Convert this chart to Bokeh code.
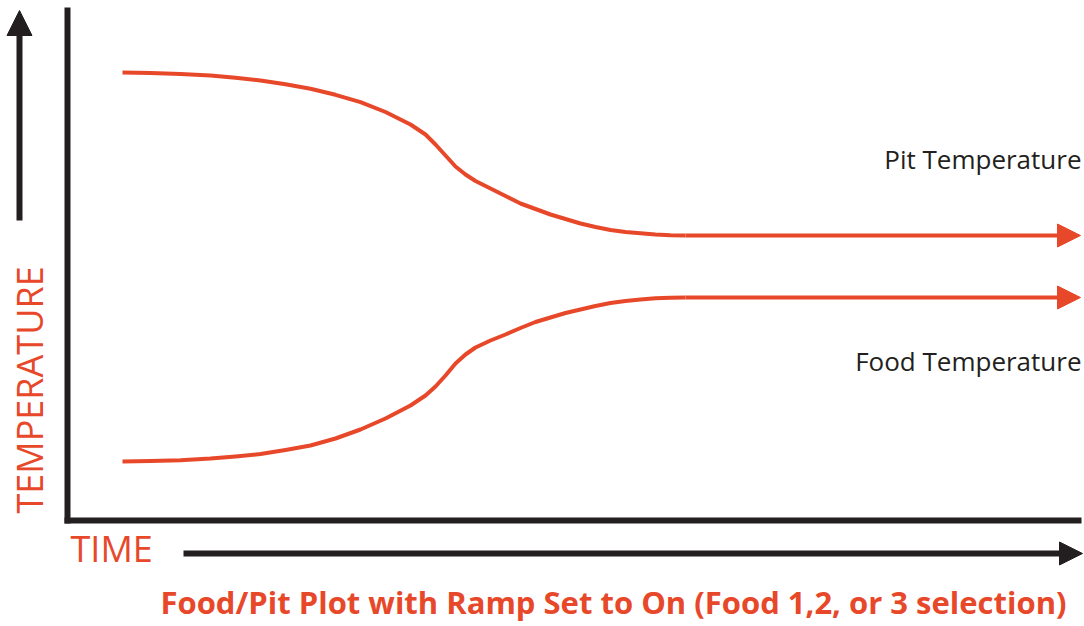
import math
from bokeh.plotting import figure
from bokeh.models import Range1d, Arrow, NormalHead, Label
from bokeh.embed import file_html
from bokeh.resources import INLINE

# ---- data (time units, temperature units; origin at the axes corner) ----
time = [55, 83, 113, 143, 168, 193, 218, 243, 268, 293, 318, 343, 358, 368, 378, 388,
        398, 408, 423, 438, 453, 468, 483, 498, 513, 528, 543, 558, 573, 588, 603, 618]
pit_temp = [448, 447.4, 446.5, 445, 442.7, 440, 436.2, 431.7, 425.7, 418.3, 408.5, 396,
            386, 376, 365, 354, 346, 339.5, 332, 324.5, 317, 311.5, 306, 301.5, 297,
            293.5, 290.5, 288.5, 287.2, 286, 285.3, 285]
food_temp = [59, 59.5, 60.3, 62, 64, 66.5, 70.5, 75, 82, 91, 102, 115, 125, 134, 145,
             157, 166, 173, 180, 186, 192.5, 198.5, 203, 207.5, 211, 214.5, 217.5,
             219.5, 221, 222.2, 222.8, 223]

arrow_end_time = 1013          # where both series arrows end
series_labels = ["Pit Temperature", "Food Temperature"]
x_label = "TIME"
y_label = "TEMPERATURE"
caption = "Food/Pit Plot with Ramp Set to On (Food 1,2, or 3 selection)"

ORANGE = "#E8482A"
DARK = "#231F20"

p = figure(width=1084, height=626,
           x_range=Range1d(-67, 1017), y_range=Range1d(-106, 520),
           x_axis_type=None, y_axis_type=None,
           toolbar_location=None, output_backend="svg",
           min_border=0, outline_line_color=None)
p.background_fill_color = "white"
p.border_fill_color = "white"

# axes lines
p.segment(x0=[0, -3], y0=[-3, 0], x1=[0, 1014], y1=[513, 0],
          line_width=6, line_color=DARK)

# curves
p.line(time, pit_temp, line_width=4, line_color=ORANGE, line_join="round")
p.line(time, food_temp, line_width=4, line_color=ORANGE, line_join="round")

# series arrows continuing to the right
for v in (pit_temp, food_temp):
    p.add_layout(Arrow(end=NormalHead(size=23, fill_color=ORANGE, line_color=ORANGE, line_width=1),
                       x_start=time[-1], y_start=v[-1], x_end=arrow_end_time, y_end=v[-1],
                       line_color=ORANGE, line_width=4))

# axis direction arrows
p.add_layout(Arrow(end=NormalHead(size=25, fill_color=DARK, line_color=DARK, line_width=1),
                   x_start=-48, y_start=300, x_end=-48, y_end=510,
                   line_color=DARK, line_width=6))
p.add_layout(Arrow(end=NormalHead(size=23, fill_color=DARK, line_color=DARK, line_width=1),
                   x_start=116, y_start=-33, x_end=1015, y_end=-33,
                   line_color=DARK, line_width=6))

# texts
p.add_layout(Label(x=1014, y=362, text=series_labels[0], text_align="right",
                   text_baseline="alphabetic", text_font="Open Sans",
                   text_font_size="26px", text_color=DARK))
p.add_layout(Label(x=1014, y=160, text=series_labels[1], text_align="right",
                   text_baseline="alphabetic", text_font="Open Sans",
                   text_font_size="26px", text_color=DARK))
p.add_layout(Label(x=3, y=-28, text=x_label, text_align="left",
                   text_baseline="alphabetic", text_font="Open Sans",
                   text_font_size="36px", text_color=ORANGE))
p.add_layout(Label(x=-38, y=7, text=y_label, angle=math.pi / 2, text_align="left",
                   text_baseline="middle", text_font="Open Sans",
                   text_font_size="36px", text_color=ORANGE))
p.add_layout(Label(x=546, y=-81, text=caption, text_align="center",
                   text_baseline="alphabetic", text_font="Open Sans",
                   text_font_style="bold",
                   text_font_size="31px", text_color=ORANGE))

open("out.html", "w").write(file_html(p, INLINE))
